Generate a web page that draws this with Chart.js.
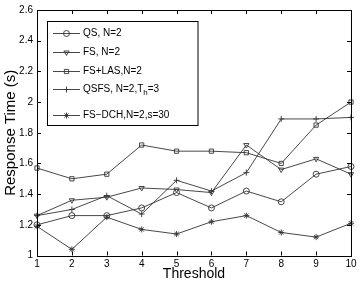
<!DOCTYPE html>
<html>
<head>
<meta charset="utf-8">
<script src="https://cdn.jsdelivr.net/npm/chart.js@4.4.0/dist/chart.umd.min.js"></script>
<style>
  html, body { margin: 0; padding: 0; background: #fff; }
</style>
</head>
<body>
<canvas id="respChart" width="360" height="286"></canvas>
<script>
const thresholds = ['1', '2', '3', '4', '5', '6', '7', '8', '9', '10'];
const yTicks = [1, 1.2, 1.4, 1.6, 1.8, 2, 2.2, 2.4, 2.6];

const qs     = [1.20, 1.26, 1.26, 1.31, 1.41, 1.31, 1.42, 1.35, 1.53, 1.58];
const fs     = [1.26, 1.36, 1.38, 1.44, 1.43, 1.41, 1.72, 1.56, 1.63, 1.53];
const fsLas  = [1.57, 1.50, 1.53, 1.72, 1.68, 1.68, 1.67, 1.60, 1.85, 2.00];
const qsfs   = [1.26, 1.30, 1.39, 1.27, 1.49, 1.42, 1.54, 1.89, 1.89, 1.90];
const fsDch  = [1.19, 1.04, 1.25, 1.17, 1.14, 1.22, 1.26, 1.15, 1.12, 1.21];

const labels = ['QS, N=2', 'FS, N=2', 'FS+LAS,N=2', 'QSFS, N=2,T_h=3', 'FS\u2212DCH,N=2,s=30'];

const FONT = 'Liberation Sans, Arial, Helvetica, sans-serif';

function series(label, data, style, rotation) {
  return {
    label: label,
    data: data,
    borderColor: '#333',
    borderWidth: 0.9,
    pointStyle: style,
    pointRotation: rotation || 0,
    pointRadius: 3,
    pointBorderColor: '#333',
    pointBackgroundColor: 'rgba(0,0,0,0)',
    pointBorderWidth: 0.9,
    fill: false,
    tension: 0
  };
}

// box, inward ticks and the legend drawn inside the axes
const frame = {
  id: 'frame',
  afterDraw(chart) {
    const c = chart.ctx;
    const a = chart.chartArea;
    const xs = chart.scales.x, ys = chart.scales.y;
    c.save();
    c.strokeStyle = '#000';
    c.lineWidth = 1;
    c.strokeRect(Math.round(a.left) + 0.5, Math.round(a.top) + 0.5,
      Math.round(a.right - a.left), Math.round(a.bottom - a.top));
    c.beginPath();
    yTicks.forEach(v => {
      const y = Math.round(ys.getPixelForValue(v)) + 0.5;
      c.moveTo(a.left, y); c.lineTo(a.left + 4, y);
      c.moveTo(a.right, y); c.lineTo(a.right - 4, y);
    });
    thresholds.forEach((t, i) => {
      const x = Math.round(xs.getPixelForValue(i)) + 0.5;
      c.moveTo(x, a.bottom); c.lineTo(x, a.bottom - 4);
      c.moveTo(x, a.top); c.lineTo(x, a.top + 4);
    });
    c.stroke();

    // legend
    const bx = 47.5, by = 21.5, bw = 150.5, bh = 104;
    c.fillStyle = '#fff';
    c.fillRect(bx, by, bw, bh);
    c.strokeRect(bx, by, bw, bh);
    const rows = [33, 52, 71, 89, 115];
    chart.data.datasets.forEach((ds, i) => {
      const y = rows[i] + 0.5;
      c.strokeStyle = '#333';
      c.lineWidth = 0.9;
      c.beginPath();
      c.moveTo(53, y); c.lineTo(80, y);
      c.stroke();
      c.fillStyle = 'rgba(0,0,0,0)';
      Chart.helpers.drawPoint(c, {
        pointStyle: ds.pointStyle, radius: 3, rotation: ds.pointRotation, borderWidth: 0.9
      }, 66.5, y);
      c.fillStyle = '#000';
      c.font = '10px ' + FONT;
      c.textBaseline = 'middle';
      const parts = ds.label.split('_');
      let x = 83;
      c.fillText(parts[0], x, y);
      if (parts.length > 1) {
        x += c.measureText(parts[0]).width;
        c.font = '8px ' + FONT;
        c.fillText(parts[1][0], x, y + 3);
        x += c.measureText(parts[1][0]).width;
        c.font = '10px ' + FONT;
        c.fillText(parts[1].slice(1), x, y);
      }
    });
    c.restore();
  }
};

new Chart(document.getElementById('respChart'), {
  type: 'line',
  data: {
    labels: thresholds,
    datasets: [
      series(labels[0], qs, 'circle'),
      series(labels[1], fs, 'triangle', 180),
      series(labels[2], fsLas, 'rect'),
      series(labels[3], qsfs, 'cross'),
      series(labels[4], fsDch, 'star')
    ]
  },
  options: {
    responsive: false,
    animation: false,
    devicePixelRatio: 1,
    layout: { padding: { top: 9, right: 9, left: 0, bottom: 0 } },
    plugins: { legend: { display: false }, tooltip: { enabled: false } },
    scales: {
      x: {
        offset: false,
        grid: { display: false, drawTicks: false },
        border: { display: false },
        ticks: { color: '#000', font: { family: FONT, size: 10 }, padding: 3, maxRotation: 0, autoSkip: false },
        title: { display: true, text: 'Threshold', color: '#000', font: { family: FONT, size: 14 }, padding: { top: 0, bottom: 3 } },
        afterFit(s) { s.height = 30.5; }
      },
      y: {
        min: 1,
        max: 2.6,
        afterBuildTicks(s) { s.ticks = yTicks.map(v => ({ value: v })); },
        grid: { display: false, drawTicks: false },
        border: { display: false },
        ticks: { color: '#000', font: { family: FONT, size: 10 }, padding: 4, callback: v => String(+v.toFixed(1)) },
        title: { display: true, text: 'Response Time (s)', color: '#000', font: { family: FONT, size: 15 }, padding: { top: 2, bottom: 0 } },
        afterFit(s) { s.width = 37; }
      }
    }
  },
  plugins: [frame]
});
</script>
</body>
</html>
